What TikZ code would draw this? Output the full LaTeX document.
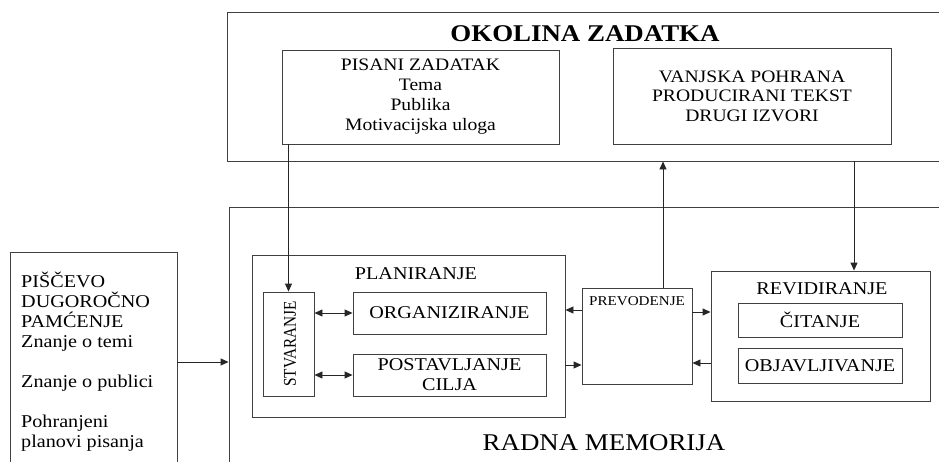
\documentclass[tikz,border=0pt]{standalone}
\usepackage{fontspec}
\setmainfont{Liberation Serif}[FakeStretch=1.12]
\newfontfamily\narrowserif{Liberation Serif}[FakeStretch=0.85]
\usetikzlibrary{arrows.meta}
\begin{document}
\begin{tikzpicture}[x=1pt,y=-1pt,
  box/.style={draw=black!75,line width=0.9pt,inner sep=0pt,align=center,font=\fontsize{18}{20}\selectfont},
  lbl/.style={inner sep=0pt,align=center,font=\fontsize{18}{20}\selectfont},
  arr/.style={draw=black!85,line width=0.9pt,-{Triangle[length=8pt,width=7pt]}},
  darr/.style={draw=black!85,line width=0.9pt,{Triangle[length=8pt,width=7pt]}-{Triangle[length=8pt,width=7pt]}}]
\clip (0,0) rectangle (939,461);
\fill[white] (0,0) rectangle (939,461);
% task environment
\node[box,minimum width=733pt,minimum height=149pt] (top) at (593.5,86.5) {};
\node[lbl,font=\bfseries\fontsize{24}{26}\selectfont,anchor=base] (title) at (585,41) {OKOLINA ZADATKA};
\node[box,minimum width=277pt,minimum height=94pt,font=\fontsize{17.5}{20}\selectfont] (pisani) at (420.5,97) {PISANI ZADATAK\\Tema\\Publika\\Motivacijska uloga};
\node[box,minimum width=278pt,minimum height=96pt,font=\fontsize{17.5}{19.5}\selectfont] (vanjska) at (752,96) {VANJSKA POHRANA\\PRODUCIRANI TEKST\\DRUGI IZVORI};
% long-term memory
\node[box,minimum width=167pt,minimum height=228pt] (ltm) at (93.5,366) {};
\node[lbl,align=left,anchor=north west] (ltmtext) at (21,272) {PIŠČEVO\\DUGOROČNO\\PAMĆENJE\\Znanje o temi\\[20pt]Znanje o publici\\[20pt]Pohranjeni\\planovi pisanja};
% working memory
\node[box,minimum width=731pt,minimum height=273pt] (radna) at (594.5,343.5) {};
\node[lbl,font=\fontsize{24}{26}\selectfont,anchor=base] (rm) at (604,450) {RADNA MEMORIJA};
% planning
\node[box,minimum width=313pt,minimum height=162pt] (plan) at (408.5,336) {};
\node[lbl,anchor=base] (planlbl) at (416,279) {PLANIRANJE};
\node[box,minimum width=51pt,minimum height=104pt] (stv) at (288.5,344) {};
\node[lbl,rotate=90,font=\narrowserif\fontsize{18}{20}\selectfont] (stvlbl) at (290,344) {STVARANJE};
\node[box,minimum width=193pt,minimum height=42pt] (org) at (449.5,313) {ORGANIZIRANJE};
\node[box,minimum width=193pt,minimum height=42pt] (post) at (449.5,375) {POSTAVLJANJE\\CILJA};
% translating
\node[box,minimum width=110pt,minimum height=96pt] (prev) at (637,336) {};
\node[lbl,font=\fontsize{13.5}{15}\selectfont,anchor=base] (prevlbl) at (637,305) {PREVODENJE};
% reviewing
\node[box,minimum width=219pt,minimum height=130pt] (rev) at (820.5,336) {};
\node[lbl,anchor=base] (revlbl) at (822,294) {REVIDIRANJE};
\node[box,minimum width=164pt,minimum height=34pt] (cit) at (820,320) {ČITANJE};
\node[box,minimum width=164pt,minimum height=35pt] (obj) at (820,365.5) {OBJAVLJIVANJE};
% connectors
\draw[arr] (stv.north |- pisani.south) -- (stv.north);
\draw[arr] ([yshift=4pt]ltm.east) -- ([yshift=4pt]ltm.east -| radna.west);
\draw[darr] (stv.east |- org.west) -- (org.west);
\draw[darr] (stv.east |- post.west) -- (post.west);
\draw[arr] ([yshift=26pt]prev.west) -- ([yshift=26pt]prev.west -| plan.east);
\draw[arr] ([yshift=-29pt]plan.east) -- ([yshift=-29pt]plan.east -| prev.west);
\draw[arr] ([yshift=24pt]prev.east) -- ([yshift=24pt]prev.east -| rev.west);
\draw[arr] ([yshift=-27pt]rev.west) -- ([yshift=-27pt]rev.west -| prev.east);
\draw[arr] ([xshift=26pt]prev.north) -- ([xshift=26pt]prev.north |- top.south);
\draw[arr] ([xshift=33.5pt]rev.north |- top.south) -- ([xshift=33.5pt]rev.north);
\end{tikzpicture}
\end{document}
